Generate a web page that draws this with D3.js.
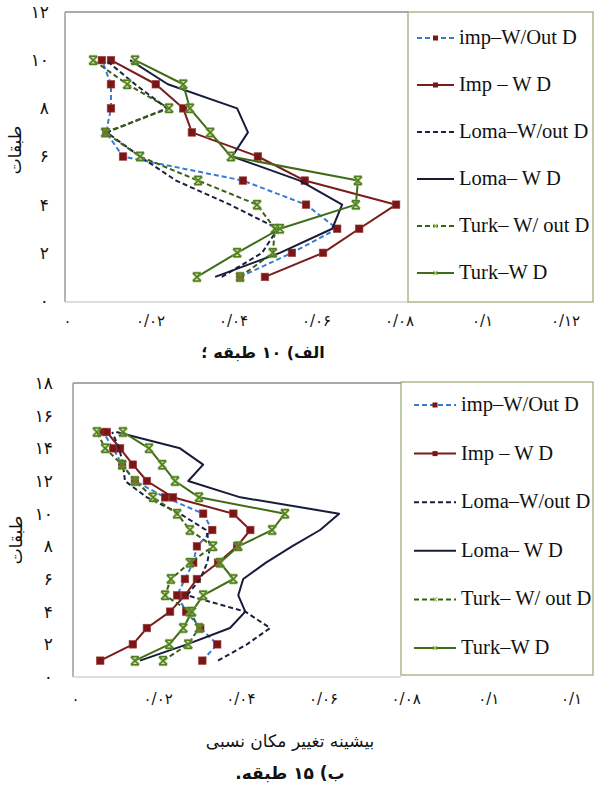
<!DOCTYPE html>
<html><head><meta charset="utf-8">
<script src="https://cdn.jsdelivr.net/npm/d3@7"></script>
<style>body{margin:0;background:#fff}svg{display:block}</style>
</head><body>
<svg id="c" width="594" height="791"></svg>
<script>
// ---------- data ----------
const seriesNames = ["imp–W/Out D", "Imp – W D", "Loma–W/out D", "Loma– W D", "Turk– W/ out D", "Turk–W D"];

const floors10 = [1, 2, 3, 4, 5, 6, 7, 8, 9, 10];
const impWout10  = [0.0417, 0.0542, 0.0651, 0.0576, 0.0424, 0.0135, 0.0094, 0.0106, 0.0106, 0.0084];
const impWD10    = [0.0477, 0.0617, 0.0704, 0.0793, 0.0573, 0.0460, 0.0301, 0.0280, 0.0214, 0.0106];
const lomaWout10 = [0.0373, 0.0470, 0.0508, 0.0393, 0.0263, 0.0176, 0.0096, 0.0241, 0.0164, 0.0094];
const lomaWD10   = [0.0357, 0.0513, 0.0639, 0.0663, 0.0561, 0.0398, 0.0436, 0.0410, 0.0243, 0.0152];
const turkWout10 = [0.0417, 0.0496, 0.0501, 0.0458, 0.0316, 0.0176, 0.0092, 0.0246, 0.0145, 0.0063];
const turkWD10   = [0.0313, 0.0410, 0.0513, 0.0696, 0.0701, 0.0395, 0.0345, 0.0296, 0.0280, 0.0164];

const floors15 = [1, 2, 3, 4, 5, 6, 7, 8, 9, 10, 11, 12, 13, 14, 15];
const impWout15  = [0.0308, 0.0344, 0.0303, 0.0269, 0.0247, 0.0266, 0.0286, 0.0295, 0.0332, 0.0310, 0.0218, 0.0145, 0.0114, 0.0092, 0.0068];
const impWD15    = [0.0061, 0.0140, 0.0174, 0.0230, 0.0266, 0.0295, 0.0346, 0.0392, 0.0424, 0.0383, 0.0237, 0.0174, 0.0140, 0.0109, 0.0077];
const lomaWout15 = [0.0346, 0.0416, 0.0472, 0.0412, 0.0271, 0.0303, 0.0320, 0.0327, 0.0317, 0.0254, 0.0174, 0.0121, 0.0116, 0.0107, 0.0090];
const lomaWD15   = [0.0157, 0.0271, 0.0375, 0.0412, 0.0395, 0.0407, 0.0462, 0.0525, 0.0593, 0.0639, 0.0400, 0.0274, 0.0310, 0.0254, 0.0100];
const turkWout15 = [0.0213, 0.0274, 0.0300, 0.0278, 0.0218, 0.0232, 0.0278, 0.0334, 0.0278, 0.0247, 0.0189, 0.0145, 0.0114, 0.0073, 0.0053];
const turkWD15   = [0.0145, 0.0228, 0.0262, 0.0283, 0.0310, 0.0383, 0.0351, 0.0395, 0.0477, 0.0508, 0.0300, 0.0242, 0.0211, 0.0179, 0.0116];

const xTickValues = [0, 0.02, 0.04, 0.06, 0.08, 0.1, 0.12];
const xTickLabelsTop = ["۰", "۰/۰۲", "۰/۰۴", "۰/۰۶", "۰/۰۸", "۰/۱", "۰/۱۲"];
const xTickLabelsBottom = ["۰", "۰/۰۲", "۰/۰۴", "۰/۰۶", "۰/۰۸", "۰/۱", "۰/۱"];
const yTickValuesTop = [0, 2, 4, 6, 8, 10, 12];
const yTickLabelsTop = ["۰", "۲", "۴", "۶", "۸", "۱۰", "۱۲"];
const yTickValuesBottom = [0, 2, 4, 6, 8, 10, 12, 14, 16, 18];
const yTickLabelsBottom = ["۰", "۲", "۴", "۶", "۸", "۱۰", "۱۲", "۱۴", "۱۶", "۱۸"];

const yTitle = "طبقات";
const captionTop = "الف) ۱۰ طبقه ؛";
const xTitleBottom = "بیشینه تغییر مکان نسبی";
const captionBottom = "ب) ۱۵ طبقه.";

// ---------- styles ----------
const styles = [
  {color: "#3a7bd0", dash: "5,3", marker: "square", mcolor: "#7a1616"},
  {color: "#7a1c1c", dash: null,  marker: "square", mcolor: "#7a1616"},
  {color: "#1a2040", dash: "5,3", marker: null},
  {color: "#161c3a", dash: null,  marker: null},
  {color: "#3a5e12", dash: "5,3", marker: "star", mcolor: "#4f7f1f"},
  {color: "#3f6c16", dash: null,  marker: "star", mcolor: "#4f7f1f"}
];
const serif = "'Liberation Serif', 'Times New Roman', serif";
const fa = "'DejaVu Sans', sans-serif";
const svg = d3.select("#c");
const starPath = "M-4,-4H4M-4,4H4M-4,-4L4,4M4,-4L-4,4";

function drawMarker(g, shape, color, x, y) {
  if (shape === "square") {
    g.append("rect").attr("x", x - 3.8).attr("y", y - 3.8).attr("width", 7.6).attr("height", 7.6)
      .attr("fill", color).attr("stroke", "#a04040").attr("stroke-width", 0.6);
  } else if (shape === "star") {
    g.append("path").attr("d", starPath).attr("transform", `translate(${x},${y})`)
      .attr("fill", "none").attr("stroke", "#9fc06a").attr("stroke-width", 3).attr("opacity", 0.6);
    g.append("path").attr("d", starPath).attr("transform", `translate(${x},${y})`)
      .attr("fill", "none").attr("stroke", color).attr("stroke-width", 1.5);
  }
}

function chart(cfg) {
  const x = d3.scaleLinear().domain([0, 0.12]).range([cfg.x0, cfg.x1]);
  const y = d3.scaleLinear().domain([0, cfg.ymax]).range([cfg.bottom, cfg.top]);
  const g = svg.append("g");

  // frame
  g.append("line").attr("x1", cfg.left).attr("x2", cfg.legLeft).attr("y1", cfg.top).attr("y2", cfg.top)
    .attr("stroke", "#8e8e8e").attr("stroke-width", 1.5);
  g.append("line").attr("x1", cfg.left).attr("x2", cfg.left).attr("y1", cfg.top).attr("y2", cfg.frameBottom)
    .attr("stroke", "#9c9c9c").attr("stroke-width", 1.5);
  g.append("line").attr("x1", cfg.left).attr("x2", cfg.legLeft).attr("y1", cfg.frameBottom).attr("y2", cfg.frameBottom)
    .attr("stroke", "#d2d2d2").attr("stroke-width", 1.5);

  // axes
  const ya = d3.axisLeft(y).tickValues(cfg.yTicks).tickSize(0)
    .tickFormat((d, i) => cfg.yLabels[i]);
  const yg = g.append("g").attr("transform", `translate(${cfg.yLabelX},0)`).call(ya);
  yg.select(".domain").remove();
  yg.selectAll("text").attr("font-family", fa).attr("font-size", 17).attr("fill", "#111");

  const xa = d3.axisBottom(x).tickValues(xTickValues).tickSize(0)
    .tickFormat((d, i) => cfg.xLabels[i]);
  const xg = g.append("g").attr("transform", `translate(0,${cfg.xLabelY})`).call(xa);
  xg.select(".domain").remove();
  xg.selectAll("text").attr("font-family", fa).attr("font-size", 15).attr("fill", "#111");

  g.append("text").attr("transform", `translate(${cfg.yTitleX},${cfg.yTitleY}) rotate(-90)`)
    .attr("text-anchor", "middle").attr("font-family", fa).attr("font-size", 17).attr("fill", "#111").text(yTitle);

  // series
  cfg.series.forEach((vals, si) => {
    const st = styles[si];
    const pts = vals.map((v, i) => [x(v), y(cfg.floors[i])]);
    g.append("path").attr("d", d3.line()(pts)).attr("fill", "none")
      .attr("stroke", st.color).attr("stroke-width", 2)
      .attr("stroke-dasharray", st.dash).attr("stroke-linejoin", "round");
    if (st.marker) pts.forEach(p => drawMarker(g, st.marker, st.mcolor, p[0], p[1]));
  });

  // legend
  g.append("rect").attr("x", cfg.legLeft).attr("y", cfg.legTop).attr("width", cfg.legRight - cfg.legLeft)
    .attr("height", cfg.legBottom - cfg.legTop).attr("fill", "#fff").attr("stroke", "#97a76e").attr("stroke-width", 1.2);
  seriesNames.forEach((name, i) => {
    const cy = cfg.legY0 + i * cfg.legStep;
    const st = styles[i];
    const lx0 = cfg.legLeft + cfg.sampleX0, lx1 = cfg.legLeft + cfg.sampleX1;
    g.append("line").attr("x1", lx0).attr("x2", lx1).attr("y1", cy).attr("y2", cy)
      .attr("stroke", st.color).attr("stroke-width", 2).attr("stroke-dasharray", st.dash);
    if (st.marker === "square") {
      g.append("rect").attr("x", (lx0 + lx1) / 2 - 2.5).attr("y", cy - 2.5).attr("width", 5).attr("height", 5).attr("fill", st.mcolor);
    } else if (st.marker === "star") {
      g.append("path").attr("d", "M-2,-2L2,2M2,-2L-2,2").attr("transform", `translate(${(lx0 + lx1) / 2},${cy})`)
        .attr("stroke", "#8fbf50").attr("stroke-width", 1.2);
    }
    g.append("text").attr("x", cfg.legLeft + cfg.textX).attr("y", cy + 6).attr("font-family", serif)
      .attr("font-size", 20.5).attr("fill", "#111").text(name);
  });
  return {x, y};
}

chart({
  floors: floors10, ymax: 12,
  series: [impWout10, impWD10, lomaWout10, lomaWD10, turkWout10, turkWD10],
  left: 65, top: 12, bottom: 301, frameBottom: 302, x0: 67, x1: 565,
  legLeft: 408, legRight: 593, legTop: 12, legBottom: 302, legY0: 38, legStep: 47,
  sampleX0: 9, sampleX1: 46, textX: 51,
  yTicks: yTickValuesTop, yLabels: yTickLabelsTop, xLabels: xTickLabelsTop,
  yLabelX: 52, xLabelY: 312, yTitleX: 21, yTitleY: 150
});

chart({
  floors: floors15, ymax: 18,
  series: [impWout15, impWD15, lomaWout15, lomaWD15, turkWout15, turkWD15],
  left: 73, top: 383, bottom: 677, frameBottom: 677, x0: 75, x1: 571,
  legLeft: 401, legRight: 593, legTop: 382, legBottom: 675, legY0: 405, legStep: 48.6,
  sampleX0: 13, sampleX1: 55, textX: 60,
  yTicks: yTickValuesBottom, yLabels: yTickLabelsBottom, xLabels: xTickLabelsBottom,
  yLabelX: 56, xLabelY: 690, yTitleX: 22, yTitleY: 540
});

svg.append("text").attr("x", 263).attr("y", 358).attr("text-anchor", "middle").attr("direction", "rtl")
  .attr("font-family", fa).attr("font-weight", "bold").attr("font-size", 16).attr("fill", "#111").text(captionTop);
svg.append("text").attr("x", 290).attr("y", 747).attr("text-anchor", "middle")
  .attr("font-family", fa).attr("font-size", 17).attr("fill", "#111").text(xTitleBottom);
svg.append("text").attr("x", 290).attr("y", 779).attr("text-anchor", "middle").attr("direction", "rtl")
  .attr("font-family", fa).attr("font-weight", "bold").attr("font-size", 17).attr("fill", "#111").text(captionBottom);
</script>
</body></html>
